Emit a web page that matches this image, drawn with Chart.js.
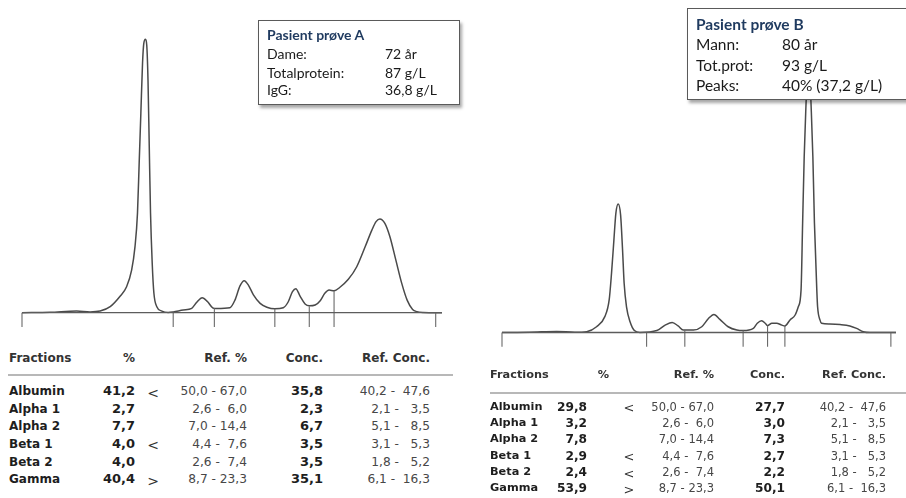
<!DOCTYPE html>
<html>
<head>
<meta charset="utf-8">
<script src="https://cdn.jsdelivr.net/npm/chart.js@4.4.1/dist/chart.umd.min.js"></script>
<style>
  html, body { margin: 0; padding: 0; background: #fff; }
  body { width: 906px; height: 498px; overflow: hidden; position: relative; font-family: "DejaVu Sans", Verdana, sans-serif; }
  canvas { position: absolute; top: 0; }
  #cA { left: 0; }
  #cB { left: 453px; }
  .box { position: absolute; box-sizing: border-box; background: #fff; border: 1px solid #5a5a5a;
         box-shadow: 2px 3px 3px rgba(0,0,0,0.35); font-family: Lato, "Open Sans", sans-serif; color: #1a1a1a; z-index: 5; }
  .box .t { position: absolute; white-space: pre; line-height: 20px; }
  .box .ttl { font-weight: bold; color: #1f3a5f; }
  .cell { position: absolute; white-space: pre; line-height: 16px; height: 16px; }
  .rule { position: absolute; height: 2px; background: #b8b8b8; }
</style>
</head>
<body>
<canvas id="cA" width="453" height="340"></canvas>
<canvas id="cB" width="453" height="400"></canvas>
<div id="tables"></div>

<div class="box" id="boxA" style="left:258px;top:20px;width:202px;height:85px;font-size:14px;">
  <div class="t ttl" style="left:8px;top:4px;">Pasient prøve A</div>
  <div class="t" style="left:8px;top:23px;">Dame:</div><div class="t" style="left:126px;top:23px;">72 år</div>
  <div class="t" style="left:8px;top:42px;">Totalprotein:</div><div class="t" style="left:126px;top:42px;">87 g/L</div>
  <div class="t" style="left:8px;top:59px;">IgG:</div><div class="t" style="left:126px;top:59px;">36,8 g/L</div>
</div>

<div class="box" id="boxB" style="left:687px;top:8px;width:240px;height:92px;font-size:15.5px;">
  <div class="t ttl" style="left:8px;top:5px;">Pasient prøve B</div>
  <div class="t" style="left:8px;top:25px;">Mann:</div><div class="t" style="left:94px;top:25px;">80 år</div>
  <div class="t" style="left:8px;top:46px;">Tot.prot:</div><div class="t" style="left:94px;top:46px;">93 g/L</div>
  <div class="t" style="left:8px;top:66px;">Peaks:</div><div class="t" style="left:94px;top:66px;">40% (37,2 g/L)</div>
</div>

<script>
// ---- Densitometry scan, sample A (mobility 0-100, relative absorbance) ----
const mobilityA = [0, 6.7, 13.0, 16.2, 18.6, 21.0, 23.3, 24.9, 26.1, 26.9, 27.5, 27.9, 28.3, 28.7, 29.0, 29.4, 29.7,
  30.0, 30.3, 30.6, 31.0, 31.4, 32.1, 33.3, 34.8, 36.0, 38.4, 40.4, 41.6, 42.9, 44.2, 45.4, 46.4, 49.5, 50.7, 51.9,
  52.9, 53.9, 55.1, 56.7, 58.3, 60.2, 62.2, 63.4, 64.4, 65.2, 66.2, 67.4, 68.4, 69.8, 71.0, 72.1, 73.1, 74.3, 75.7,
  77.7, 79.7, 81.7, 83.3, 84.3, 85.2, 86.4, 87.6, 89.0, 90.4, 91.7, 93.0, 94.0, 95.5, 100];
const absorbA = [0, 0.15, 0.6, 0.3, 0.6, 2.2, 5.9, 9.5, 15.6, 24.1, 36.5, 54.8, 73.0, 91.3, 98.5, 100, 97.9,
  85.1, 60.7, 36.5, 18.2, 7.2, 2.2, 0.6, 0.1, 0.3, 1.0, 1.6, 3.8, 5.5, 4.0, 1.8, 1.5, 1.8, 4.6, 9.8,
  11.7, 10.1, 6.5, 3.4, 2.0, 1.4, 1.8, 4.0, 7.7, 8.8, 6.1, 3.2, 2.5, 2.8, 4.4, 7.1, 8.3, 8.0, 9.3,
  12.2, 16.8, 24.1, 30.2, 33.3, 34.3, 32.7, 27.8, 19.3, 10.8, 4.6, 1.2, 0.4, 0.1, 0];
// fraction boundaries and the curve height where each divider starts
const splitsA = [0, 36.0, 45.8, 60.2, 68.4, 74.3, 98.5];
const splitTopA = [0, 0, 1.6, 1.4, 2.4, 8.0, 0];

// ---- Densitometry scan, sample B ----
const mobilityB = [0, 7.1, 13.9, 18.5, 21.5, 24.0, 26.1, 27.2, 27.8, 28.4, 28.9, 29.5, 30.1, 30.6, 31.0, 31.6, 32.5,
  33.6, 35.0, 39.3, 41.4, 43.2, 44.7, 46.0, 48.6, 50.7, 52.4, 53.8, 55.3, 57.4, 59.6, 61.2, 63.8, 64.8, 65.9, 66.8,
  67.4, 68.5, 69.7, 71.0, 71.8, 73.1, 74.4, 75.2, 75.9, 76.3, 76.7, 77.2, 77.5, 77.8, 78.1, 78.4, 78.9, 79.3, 79.9,
  80.1, 80.7, 81.1, 83.2, 85.8, 88.3, 90.0, 91.7, 93.4, 100];
const absorbB = [0, 0.1, 0.4, 0.1, 0.3, 2.1, 5.8, 11.9, 21.7, 33.8, 43.6, 47.0, 43.0, 30.2, 18.0, 9.4, 3.9,
  0.7, 0, 0.7, 2.7, 3.7, 2.4, 0.9, 0.9, 2.1, 5.1, 6.6, 4.8, 2.1, 0.9, 0.7, 1.5, 3.4, 4.3, 3.4,
  2.5, 3.4, 3.4, 2.7, 2.4, 4.6, 6.4, 9.4, 15.5, 40.0, 64.3, 85.0, 96.0, 100, 96.0, 85.0, 64.3, 40.0, 15.5,
  9.4, 4.6, 3.4, 3.1, 2.9, 2.4, 1.5, 0.3, 0, 0];
const splitsB = [0, 36.7, 46.4, 61.2, 67.4, 71.8, 98.7];
const splitTopB = [0, 0, 0.9, 0.7, 2.5, 2.4, 0];

// ---- Fraction report ----
const fractions = ['Albumin', 'Alpha 1', 'Alpha 2', 'Beta 1', 'Beta 2', 'Gamma'];
const pctA  = [41.2, 2.7, 7.7, 4.0, 4.0, 40.4];
const concA = [35.8, 2.3, 6.7, 3.5, 3.5, 35.1];
const pctB  = [29.8, 3.2, 7.8, 2.9, 2.4, 53.9];
const concB = [27.7, 3.0, 7.3, 2.7, 2.2, 50.1];
const refPctLow   = [50.0, 2.6, 7.0, 4.4, 2.6, 8.7];
const refPctHigh  = [67.0, 6.0, 14.4, 7.6, 7.4, 23.3];
const refConcLow  = [40.2, 2.1, 5.1, 3.1, 1.8, 6.1];
const refConcHigh = [47.6, 3.5, 8.5, 5.3, 5.2, 16.3];
const headers = ['Fractions', '%', 'Ref. %', 'Conc.', 'Ref. Conc.'];

function drawScan(id, xs, ys, splits, splitTop, tickBottom, padding) {
  const curve = xs.map((x, i) => ({ x: x, y: ys[i] }));
  const dividers = [];
  splits.forEach((x, i) => {
    dividers.push({ x: x, y: splitTop[i] }, { x: x, y: tickBottom }, { x: x, y: null });
  });
  new Chart(document.getElementById(id), {
    type: 'line',
    data: {
      datasets: [
        { data: [{ x: 0, y: 0 }, { x: 100, y: 0 }], borderColor: '#5c5c5c', borderWidth: 1.3, pointRadius: 0, clip: false },
        { data: dividers, borderColor: '#6a6a6a', borderWidth: 1.1, pointRadius: 0, spanGaps: false, clip: false },
        { data: curve, borderColor: '#4a4a4a', borderWidth: 1.5, pointRadius: 0, cubicInterpolationMode: 'monotone', clip: false }
      ]
    },
    options: {
      responsive: false, animation: false, devicePixelRatio: 1, events: [],
      layout: { padding: padding },
      scales: {
        x: { type: 'linear', display: false, min: 0, max: 100 },
        y: { type: 'linear', display: false, min: -6, max: 100 }
      },
      plugins: { legend: { display: false }, tooltip: { enabled: false } }
    }
  });
}

drawScan('cA', mobilityA, absorbA, splitsA, splitTopA, -5.2, { left: 22, right: 11, top: 39.3, bottom: 10.9 });
drawScan('cB', mobilityB, absorbB, splitsB, splitTopB, -5.2, { left: 49, right: 10, top: 59.1, bottom: 51.1 });

// ---- report tables ----
const fmt = v => v.toFixed(1).replace('.', ',');
const padL = (s, n) => { while (s.length < n) s = ' ' + s; return s; };
const host = document.getElementById('tables');

function cell(text, x, y, align, size, weight, color) {
  const d = document.createElement('div');
  d.className = 'cell';
  d.textContent = text;
  d.style.fontSize = size + 'px';
  d.style.fontWeight = weight;
  d.style.color = color;
  d.style.top = (y - 8) + 'px';
  if (align === 'right') { d.style.left = (x - 200) + 'px'; d.style.width = '200px'; d.style.textAlign = 'right'; }
  else if (align === 'center') { d.style.left = (x - 20) + 'px'; d.style.width = '40px'; d.style.textAlign = 'center'; }
  else { d.style.left = x + 'px'; }
  host.appendChild(d);
}

function report(pct, conc, L) {
  const hc = '#333', vc = '#1e1e1e', rc = '#474747';
  cell(headers[0], L.name, L.head, 'left', L.size, 'bold', hc);
  cell(headers[1], L.pctHead, L.head, 'right', L.size, 'bold', hc);
  cell(headers[2], L.ref, L.head, 'right', L.size, 'bold', hc);
  cell(headers[3], L.conc, L.head, 'right', L.size, 'bold', hc);
  cell(headers[4], L.refc, L.head, 'right', L.size, 'bold', hc);
  const r = document.createElement('div');
  r.className = 'rule';
  r.style.left = L.ruleX0 + 'px'; r.style.width = (L.ruleX1 - L.ruleX0) + 'px'; r.style.top = L.rule + 'px';
  host.appendChild(r);
  fractions.forEach((f, i) => {
    const y = L.row0 + i * L.step;
    const flag = pct[i] < refPctLow[i] ? '<' : (pct[i] > refPctHigh[i] ? '>' : '');
    cell(f, L.name, y, 'left', L.size, 'bold', vc);
    cell(fmt(pct[i]), L.pct, y, 'right', L.vsize, 'bold', vc);
    if (flag) cell(flag, L.flag, y + 1.5, 'center', L.fsize, 'normal', '#333');
    cell(padL(fmt(refPctLow[i]), 4) + ' - ' + padL(fmt(refPctHigh[i]), 4), L.ref, y, 'right', L.rsize, 'normal', rc);
    cell(fmt(conc[i]), L.conc, y, 'right', L.vsize, 'bold', vc);
    cell(padL(fmt(refConcLow[i]), 4) + ' - ' + padL(fmt(refConcHigh[i]), 5), L.refc, y, 'right', L.rsize, 'normal', rc);
  });
}

report(pctA, concA, { name: 9, pct: 135, pctHead: 135, flag: 153, ref: 247, conc: 323, refc: 430,
  head: 358.3, rule: 374, ruleX0: 8, ruleX1: 453, row0: 391, step: 17.65, size: 12, vsize: 13, rsize: 12.2, fsize: 14 });
report(pctB, concB, { name: 490, pct: 587, pctHead: 609, flag: 629, ref: 714, conc: 785, refc: 886,
  head: 375, rule: 391.7, ruleX0: 490, ruleX1: 906, row0: 406.7, step: 16.35, size: 11.3, vsize: 12.2, rsize: 11.5, fsize: 13 });
</script>
</body>
</html>
